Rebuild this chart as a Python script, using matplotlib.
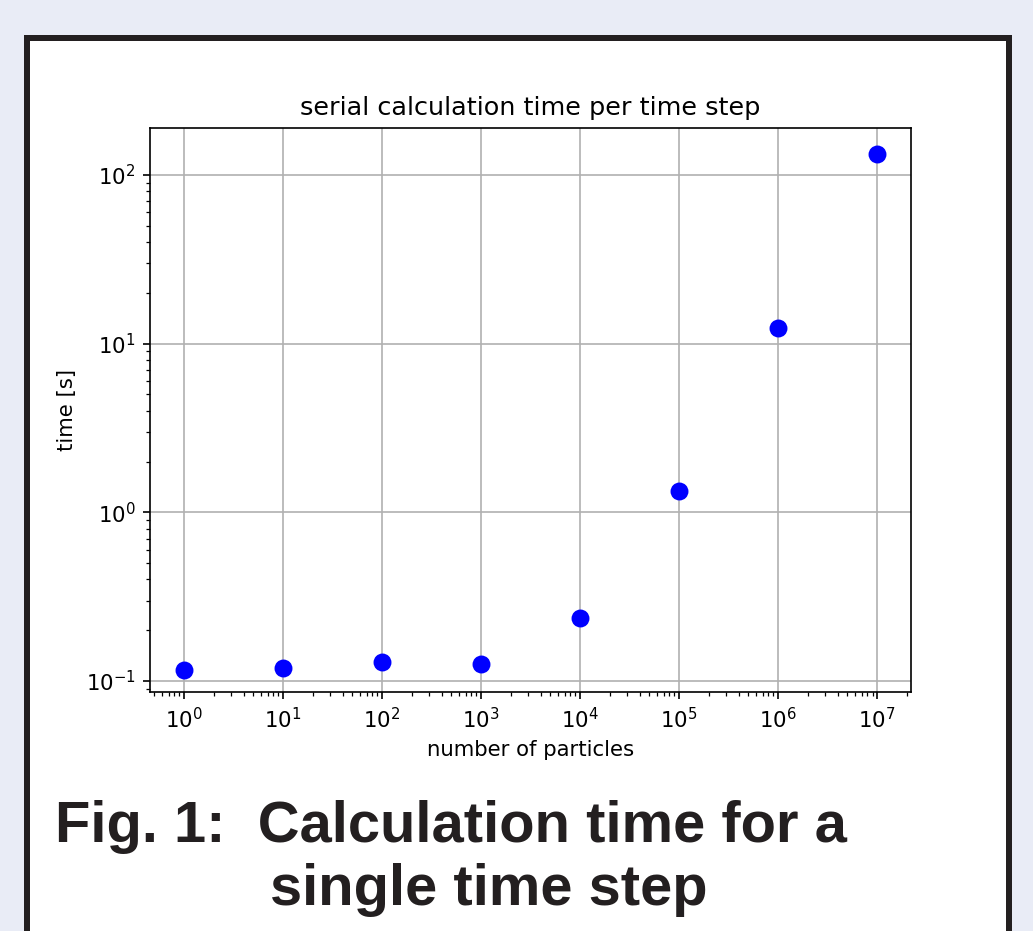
from matplotlib import pyplot as plt
from matplotlib.patches import Rectangle

# number of particles vs. serial time per step
n_particles = [1e0, 1e1, 1e2, 1e3, 1e4, 1e5, 1e6, 1e7]
times = [0.116, 0.119, 0.130, 0.126, 0.236, 1.34, 12.4, 133.0]

title = "serial calculation time per time step"
xlabel = "number of particles"
ylabel = "time [s]"
caption1 = "Fig. 1:  Calculation time for a"
caption2 = "single time step"

plt.rcParams["font.size"] = 10.2

W, H = 1033, 931
dpi = 150
fig = plt.figure(figsize=(W / dpi, H / dpi), dpi=dpi, facecolor="#e9ecf6")

# white poster panel with dark frame, kept behind the axes
panel = Rectangle((27 / W, -0.05), (1009 - 27) / W, 1 - 38 / H + 0.05,
                  transform=fig.transFigure, facecolor="white",
                  edgecolor="#231f20", linewidth=6 * 72 / dpi, zorder=-1)
fig.patches.append(panel)

ax = fig.add_axes([150 / W, 1 - 692 / H, (911 - 150) / W, (692 - 128) / H])
ax.plot(n_particles, times, "bo", markersize=7.6)
ax.set_xscale("log")
ax.set_yscale("log")
ax.set_xlim(10 ** -0.343, 10 ** 7.343)
ax.set_ylim(10 ** -1.065, 10 ** 2.279)
ax.grid(True)
ax.set_title(title)
ax.set_xlabel(xlabel)
ax.set_ylabel(ylabel)

cap = dict(family=["Liberation Sans", "DejaVu Sans"], weight="bold",
           fontsize=27.8, color="#231f20", va="baseline")
fig.text(55 / W, 1 - 842 / H, caption1, ha="left", **cap)
fig.text(489 / W, 1 - 905 / H, caption2, ha="center", **cap)

fig.savefig("out.png", dpi=dpi, facecolor=fig.get_facecolor())
